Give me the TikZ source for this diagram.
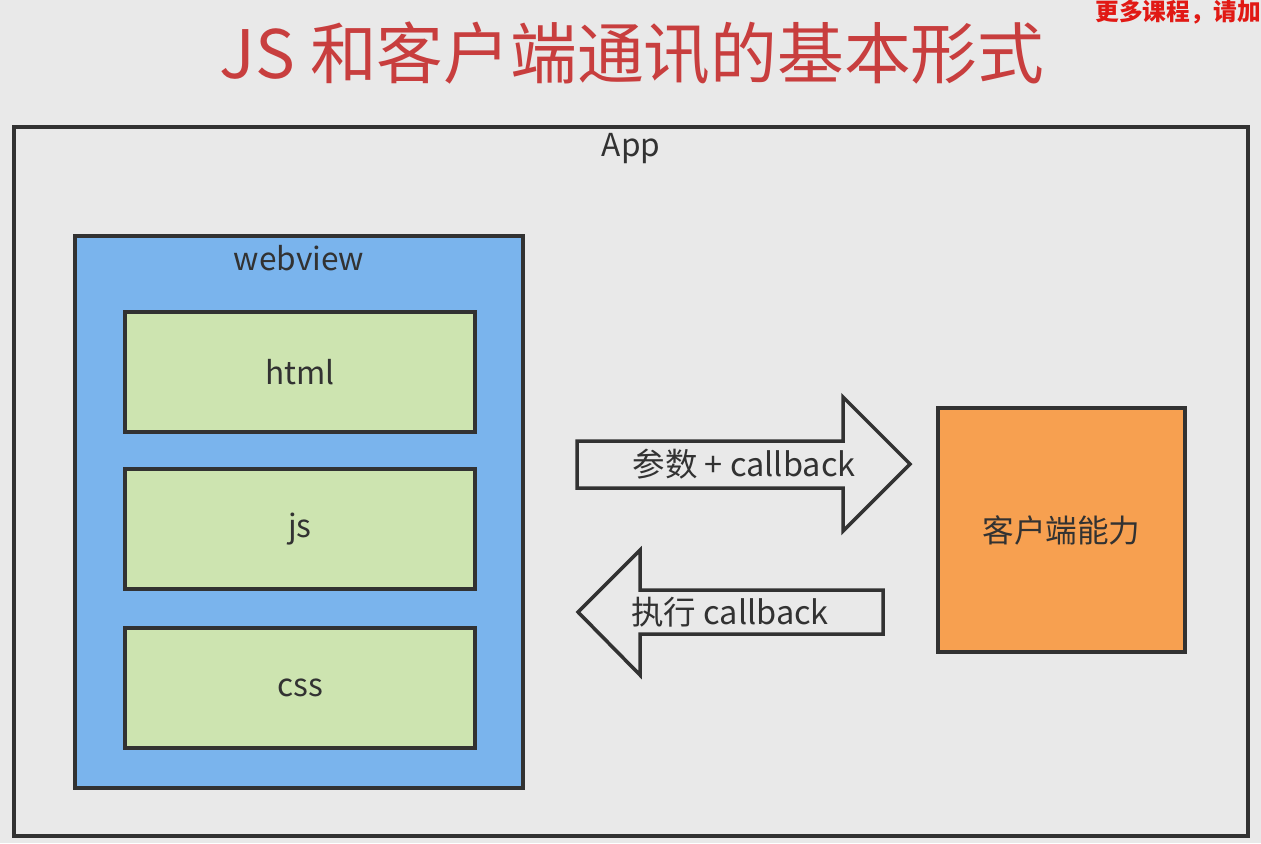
\documentclass[tikz,border=0pt]{standalone}
\usepackage{fontspec}
\setmainfont{Noto Sans CJK SC}
\usepackage{xcolor}
\usetikzlibrary{positioning}

\definecolor{bgGray}{RGB}{233,233,233}
\definecolor{lineDark}{RGB}{50,50,50}
\definecolor{titleRed}{RGB}{200,62,62}
\definecolor{noteRed}{RGB}{225,25,20}
\definecolor{viewBlue}{RGB}{122,180,237}
\definecolor{partGreen}{RGB}{205,228,176}
\definecolor{nativeOrange}{RGB}{247,160,80}

\begin{document}
\begin{tikzpicture}[
    x=0.02cm, y=-0.02cm,
    frame/.style={draw=lineDark, line width=2pt, fill=bgGray},
    view/.style={draw=lineDark, line width=2pt, fill=viewBlue, minimum width=8.96cm, minimum height=11.04cm},
    part/.style={draw=lineDark, line width=2pt, fill=partGreen, minimum width=7cm, minimum height=2.4cm, font=\fontsize{18}{21}\selectfont, text=lineDark},
    native/.style={draw=lineDark, line width=2pt, fill=nativeOrange, minimum width=4.94cm, minimum height=4.88cm, font=\fontsize{18}{21}\selectfont, text=lineDark},
    blockarrow/.style={draw=lineDark, line width=2pt, fill=bgGray, line join=miter},
    lbl/.style={font=\fontsize{18}{21}\selectfont, text=lineDark},
    arrowlbl/.style={font=\fontsize{18.5}{22}\selectfont, text=lineDark}
]
    \useasboundingbox (0,0) rectangle (1261,843);
    \fill[bgGray] (0,0) rectangle (1261,843);

    % title
    \node[text=titleRed, font=\fontsize{38}{42}\selectfont] (title) at (632,53) {JS 和客户端通讯的基本形式};
    \node[text=noteRed, font=\fontsize{13.5}{16}\selectfont\bfseries, anchor=west, inner sep=0pt] (note) at (1095,12) {更多课程，请加};

    % app frame
    \node[frame, minimum width=24.68cm, minimum height=14.18cm] (app) at (631,481.5) {};
    \node[lbl] (applbl) at (631,149) {App};

    % webview and its parts
    \node[view] (wv) at (299,512) {};
    \node[lbl] (wvlbl) at (299,258) {webview};
    \node[part] (html) at (300,372) {html};
    \node[part] (js) at (300,529) {js};
    \node[part] (css) at (300,688) {css};

    % client side
    \node[native] (client) at (1061.5,530) {客户端能力};

    % arrows
    \draw[blockarrow] (577,441) -- (843,441) -- (843,397) -- (910,464) -- (843,531) -- (843,488) -- (577,488) -- cycle;
    \node[arrowlbl] (call) at (744,464) {参数 + callback};
    \draw[blockarrow] (883,590) -- (640,590) -- (640,550) -- (578,612) -- (640,675) -- (640,634) -- (883,634) -- cycle;
    \node[arrowlbl] (back) at (730,612) {执行 callback};
\end{tikzpicture}
\end{document}
